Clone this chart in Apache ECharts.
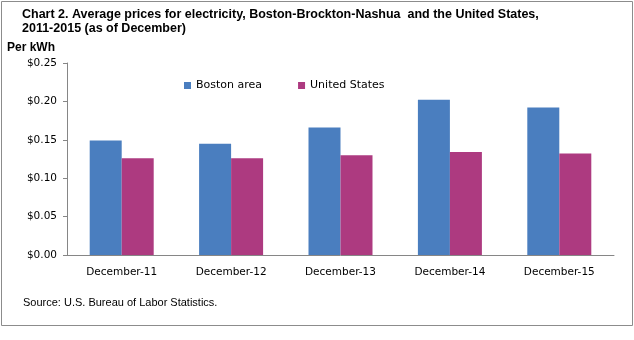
<!DOCTYPE html>
<html><head><meta charset="utf-8">
<script src="https://cdn.jsdelivr.net/npm/echarts@6/dist/echarts.min.js"></script>
<style>html,body{margin:0;padding:0;background:#fff;}#c{width:634px;height:340px;}</style>
</head><body><div id="c"></div>
<script>
var categories = ['December-11','December-12','December-13','December-14','December-15'];
var bostonArea = [0.149, 0.145, 0.166, 0.202, 0.192];
var unitedStates = [0.126, 0.126, 0.130, 0.134, 0.132];
var yTicks = ['$0.00','$0.05','$0.10','$0.15','$0.20','$0.25'];

var chart = echarts.init(document.getElementById('c'), null, {renderer:'canvas'});
chart.setOption({
  animation: false,
  backgroundColor: '#fff',
  graphic: [
    {type:'rect', shape:{x:1.5,y:1.5,width:631,height:324}, style:{fill:'none', stroke:'#8c8c8c', lineWidth:1}},
    {type:'text', left:22, top:8, style:{text:'Chart 2. Average prices for electricity, Boston-Brockton-Nashua  and the United States,\n2011-2015 (as of December)', font:'bold 12.5px "Liberation Sans", Arial', fill:'#000', lineHeight:14}},
    {type:'text', left:7, top:42, style:{text:'Per kWh', font:'bold 12px "Liberation Sans", Arial', fill:'#000'}},
    {type:'text', left:23, top:297, style:{text:'Source: U.S. Bureau of Labor Statistics.', font:'11px "Liberation Sans", Arial', fill:'#000'}}
  ],
  legend: {
    left: 179, top: 75, itemWidth: 7, itemHeight: 7, itemGap: 36,
    icon: 'rect',
    textStyle: {fontFamily: 'DejaVu Sans', fontSize: 11, color: '#000'},
    data: ['Boston area','United States']
  },
  grid: {left: 67, right: 20, top: 63, bottom: 85},
  xAxis: {
    type: 'category', data: categories,
    axisLine: {lineStyle: {color: '#868686'}},
    axisTick: {length: 5, lineStyle: {color: '#868686'}},
    axisLabel: {color: '#000', fontFamily: 'DejaVu Sans', fontSize: 10.5, margin: 12}
  },
  yAxis: {
    type: 'value', min: 0, max: 0.25, interval: 0.05,
    axisLine: {show: true, lineStyle: {color: '#868686'}},
    axisTick: {show: true, length: 4, lineStyle: {color: '#868686'}},
    splitLine: {show: false},
    axisLabel: {color: '#000', fontFamily: 'DejaVu Sans', fontSize: 10.5, margin: 10,
      formatter: function(v){ var i = Math.round(v/0.05); return yTicks[i]; }}
  },
  series: [
    {name: 'Boston area', type: 'bar', data: bostonArea, barWidth: 32, barGap: '0%', itemStyle: {color: '#4a7ebf'}},
    {name: 'United States', type: 'bar', data: unitedStates, barWidth: 32, barGap: '0%', itemStyle: {color: '#ad3a80'}}
  ]
});
</script></body></html>
